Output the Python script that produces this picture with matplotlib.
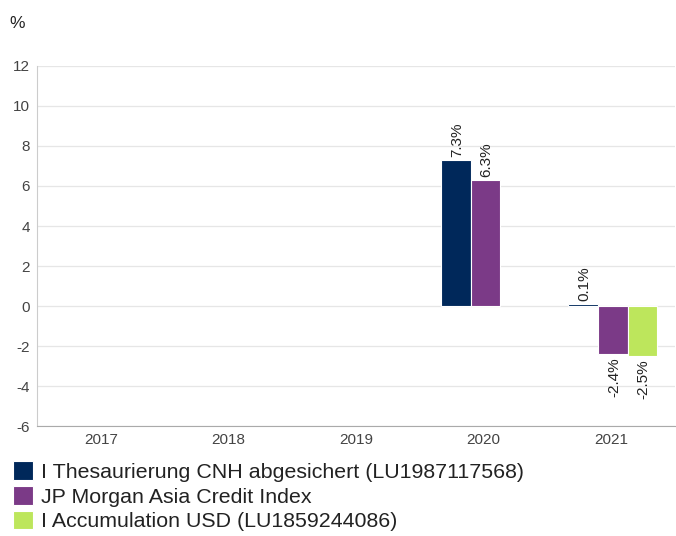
import matplotlib.pyplot as plt
import numpy as np

years = ["2017", "2018", "2019", "2020", "2021"]
series_names = [
    "I Thesaurierung CNH abgesichert (LU1987117568)",
    "JP Morgan Asia Credit Index",
    "I Accumulation USD (LU1859244086)",
]
fund_cnh = [np.nan, np.nan, np.nan, 7.3, 0.1]
index_jp = [np.nan, np.nan, np.nan, 6.3, -2.4]
fund_usd = [np.nan, np.nan, np.nan, np.nan, -2.5]
colors = ["#00285a", "#7b3a87", "#bde65c"]

plt.rcParams["font.family"] = ["Liberation Sans", "DejaVu Sans"]
plt.rcParams["axes.unicode_minus"] = False

fig = plt.figure(figsize=(6.76, 5.36), dpi=100)
ax = fig.add_axes([0.055, 0.205, 0.943, 0.672])

x = np.arange(len(years))
bar_w = 0.232
for i, (vals, col) in enumerate(zip([fund_cnh, index_jp, fund_usd], colors)):
    pos = x + (i - 1) * bar_w + 0.015
    ax.bar(pos, vals, width=bar_w, color=col, edgecolor="white",
           linewidth=0.8, label=series_names[i], zorder=3)
    for xp, v in zip(pos, vals):
        if np.isnan(v):
            continue
        if v >= 0:
            ax.text(xp + 0.01, v + 0.15, f"{v:.1f}%", rotation=90, ha="center",
                    va="bottom", fontsize=11, color="#222222")
        else:
            ax.text(xp + 0.01, v - 0.15, f"{v:.1f}%", rotation=90, ha="center",
                    va="top", fontsize=11, color="#222222")

ax.set_xlim(-0.5, len(years) - 0.5)
ax.set_ylim(-6, 12)
ax.set_yticks(np.arange(-6, 13, 2))
ax.set_xticks(x)
ax.set_xticklabels(years)
ax.tick_params(axis="both", length=0, labelsize=11, colors="#444444")
ax.tick_params(axis="x", pad=5)
ax.tick_params(axis="y", pad=5)
ax.grid(axis="y", color="#e6e6e6", linewidth=0.9, zorder=0)
for s in ["top", "right"]:
    ax.spines[s].set_visible(False)
ax.spines["left"].set_color("#cccccc")
ax.spines["bottom"].set_color("#aaaaaa")

fig.text(0.014, 0.948, "%", fontsize=12.5, color="#222222")

leg = fig.legend(loc="upper left", bbox_to_anchor=(0.019, 0.139), frameon=False,
                 fontsize=15.4, handlelength=0.95, handleheight=0.95,
                 handletextpad=0.35, labelspacing=0.19, borderpad=0,
                 borderaxespad=0)
for t in leg.get_texts():
    t.set_color("#222222")

fig.savefig("out.png", dpi=100)
